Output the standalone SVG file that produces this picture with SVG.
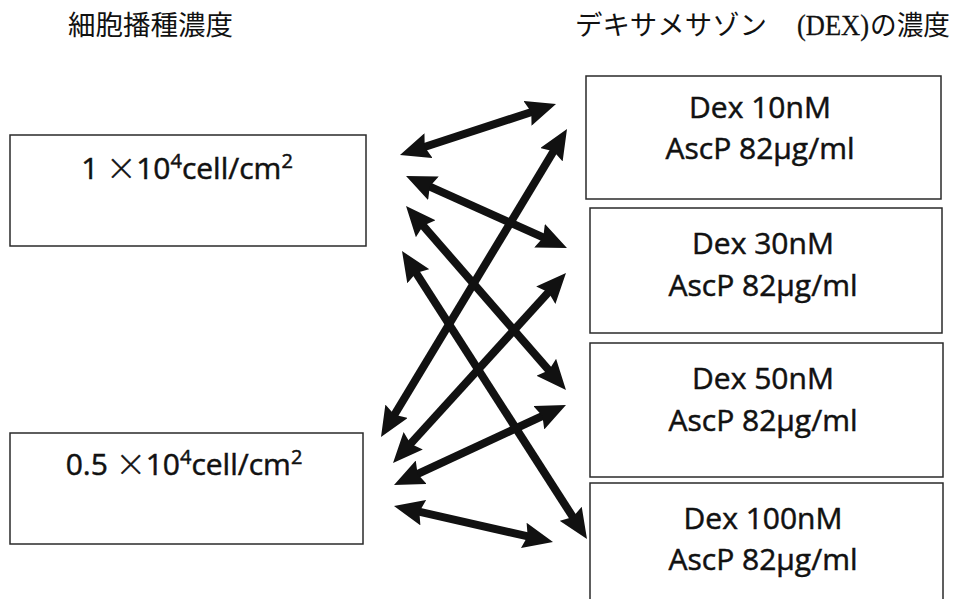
<svg xmlns="http://www.w3.org/2000/svg" width="954" height="599" viewBox="0 0 954 599">
  <style>
    .box { fill: #ffffff; stroke: #2a2a2a; stroke-width: 1.5; }
    .lbl { font-family: "Open Sans", "Liberation Sans", sans-serif; font-size: 30px; fill: #111; stroke: #111; stroke-width: 0.5; text-anchor: middle; }
    .sup { font-size: 20px; }
    .times { font-family: "Noto Sans CJK JP", sans-serif; font-weight: 300; }
    .head { font-family: "Noto Sans CJK JP", "Liberation Serif", serif; font-size: 27px; fill: #111; }
    .latin { font-family: "Liberation Serif", serif; font-size: 29px; fill: #111; stroke: #111; stroke-width: 0.3; }
    .link { stroke: #111; stroke-width: 8; fill: none; marker-start: url(#tip); marker-end: url(#tip); }
  </style>
  <defs>
    <marker id="tip" markerUnits="userSpaceOnUse" markerWidth="30" markerHeight="26" viewBox="0 0 30 26" refX="18" refY="13" orient="auto-start-reverse">
      <path d="M0,0 L30,13 L0,26 L4,13 z" fill="#111"/>
    </marker>
  </defs>

  <rect width="954" height="599" fill="#ffffff"/>

  <!-- column headings -->
  <g id="heading-seeding">
    <text class="head" x="68" y="35" textLength="165" lengthAdjust="spacingAndGlyphs">細胞播種濃度</text>
  </g>
  <g id="heading-dex">
    <text class="head" x="575" y="35" textLength="192" lengthAdjust="spacingAndGlyphs">デキサメサゾン</text>
    <text class="latin" x="797" y="35" textLength="72" lengthAdjust="spacingAndGlyphs">(DEX)</text>
    <text class="head" x="870" y="35" textLength="80" lengthAdjust="spacingAndGlyphs">の濃度</text>
  </g>

  <!-- seeding density nodes -->
  <g id="seed-1e4">
    <rect class="box" x="10" y="135" width="356" height="111"/>
    <text class="lbl" x="187" y="179">1 <tspan class="times">×</tspan>10<tspan class="sup" dy="-11">4</tspan><tspan dy="11">cell/cm</tspan><tspan class="sup" dy="-11">2</tspan></text>
  </g>
  <g id="seed-05e4">
    <rect class="box" x="10" y="433" width="353" height="111"/>
    <text class="lbl" x="184" y="475">0.5 <tspan class="times">×</tspan>10<tspan class="sup" dy="-11">4</tspan><tspan dy="11">cell/cm</tspan><tspan class="sup" dy="-11">2</tspan></text>
  </g>

  <!-- dexamethasone nodes -->
  <g id="dex-10">
    <rect class="box" x="586" y="76" width="355" height="123"/>
    <text class="lbl" x="760" y="118">Dex 10nM</text>
    <text class="lbl" x="760" y="159">AscP 82μg/ml</text>
  </g>
  <g id="dex-30">
    <rect class="box" x="590" y="208" width="352" height="125"/>
    <text class="lbl" x="763" y="254">Dex 30nM</text>
    <text class="lbl" x="763" y="296">AscP 82μg/ml</text>
  </g>
  <g id="dex-50">
    <rect class="box" x="590" y="343" width="353" height="134"/>
    <text class="lbl" x="763" y="389">Dex 50nM</text>
    <text class="lbl" x="763" y="431">AscP 82μg/ml</text>
  </g>
  <g id="dex-100">
    <rect class="box" x="590" y="483" width="353" height="130"/>
    <text class="lbl" x="763" y="529">Dex 100nM</text>
    <text class="lbl" x="763" y="570">AscP 82μg/ml</text>
  </g>

  <!-- double-headed connectors -->
  <g id="connectors">
    <line class="link" x1="411.4" y1="151.3" x2="544.6" y2="107.7"/>
    <line class="link" x1="417.0" y1="180.9" x2="556.0" y2="243.1"/>
    <line class="link" x1="413.9" y1="215.1" x2="558.1" y2="380.9"/>
    <line class="link" x1="408.5" y1="261.1" x2="580.5" y2="528.9"/>
    <line class="link" x1="387.2" y1="426.7" x2="560.8" y2="139.3"/>
    <line class="link" x1="401.1" y1="454.1" x2="557.9" y2="281.9"/>
    <line class="link" x1="404.9" y1="479.9" x2="555.1" y2="410.1"/>
    <line class="link" x1="405.7" y1="508.7" x2="541.3" y2="539.4"/>
  </g>
</svg>
